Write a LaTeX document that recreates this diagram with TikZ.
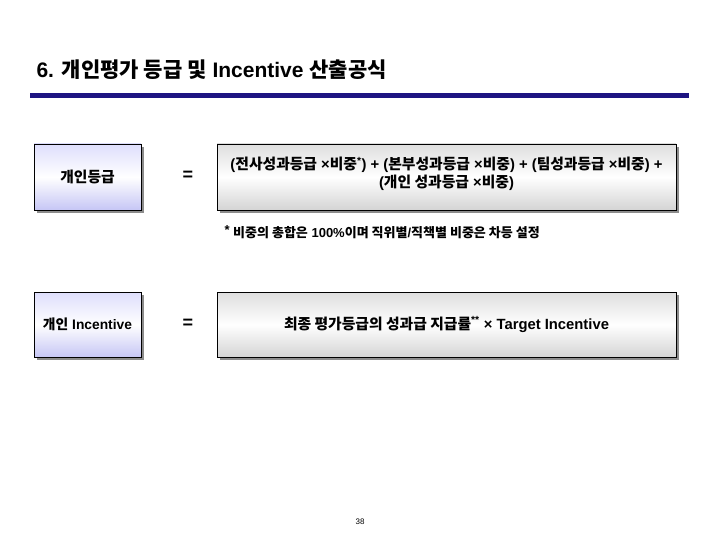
\documentclass[tikz,border=0pt]{standalone}
\usepackage{fontspec}
\setmainfont{Liberation Sans}
\newfontfamily\kr{Noto Sans CJK KR}
\usetikzlibrary{shadows}
\newcommand\K[1]{{\kr #1}}
\definecolor{rulecol}{RGB}{30,20,130}
\definecolor{lavtop}{RGB}{222,222,252}
\definecolor{lavbot}{RGB}{198,198,245}
\definecolor{graytop}{RGB}{222,222,222}
\definecolor{graybot}{RGB}{212,212,212}
\tikzset{
  boxbase/.style={draw=black, line width=0.9pt, inner sep=0pt, align=center,
    font=\bfseries\fontsize{14.8}{18}\selectfont,
    drop shadow={shadow xshift=3pt, shadow yshift=-3pt, fill=gray!90, opacity=1}},
  lavbox/.style={boxbase, top color=lavtop, bottom color=lavbot, middle color=white,
    minimum width=107pt, minimum height=66pt},
  graybox/.style={boxbase, top color=graytop, bottom color=graybot, middle color=white,
    minimum width=459pt, minimum height=66pt},
  boxtext/.style={align=center, inner sep=0pt, font=\bfseries\fontsize{14.8}{18}\selectfont},
  eqsign/.style={font=\bfseries\fontsize{18}{18}\selectfont},
}
\begin{document}
\begin{tikzpicture}[x=1pt,y=-1pt]
\useasboundingbox (0,0) rectangle (720,540);
% title
\node[anchor=west, font=\bfseries\fontsize{21}{21}\selectfont] (title) at (33,70)
  {6. \K{개인평가 등급 및} Incentive \K{산출공식}};
\coordinate (ruleL) at (30,95.5);
\coordinate (ruleR) at (689,95.5);
\draw[rulecol, line width=5pt] (ruleL) -- (ruleR);
% row 1
\node[lavbox] (grade) at (87.5,177) {\K{개인등급}};
\node[eqsign] (eq1) at (188,176) {=};
\node[graybox] (formula1) at (446.5,177) {};
\node[boxtext] (formula1text) at (446.5,174)
  {(\K{전사성과등급} ×\K{비중}\textsuperscript{*}) + (\K{본부성과등급} ×\K{비중}) + (\K{팀성과등급} ×\K{비중}) +\\(\K{개인 성과등급} ×\K{비중})};
\node[anchor=west, font=\bfseries\fontsize{13}{13}\selectfont] (note) at (221,232)
  {{\fontsize{13}{13}\selectfont\raisebox{3.5pt}{*}} \K{비중의 총합은} 100\%\K{이며 직위별}/\K{직책별 비중은 차등 설정}};
% row 2
\node[lavbox, minimum height=65pt, font=\bfseries\fontsize{13.8}{17}\selectfont] (incent) at (87.5,324.5) {\K{개인} Incentive};
\node[eqsign] (eq2) at (188,324) {=};
\node[graybox, minimum height=65pt] (formula2) at (446.5,324.5)
  {\K{최종 평가등급의 성과급 지급률}\textsuperscript{**} × Target Incentive};
% page number
\node[font=\fontsize{8}{8}\selectfont] (page) at (360,522) {38};
\end{tikzpicture}
\end{document}
